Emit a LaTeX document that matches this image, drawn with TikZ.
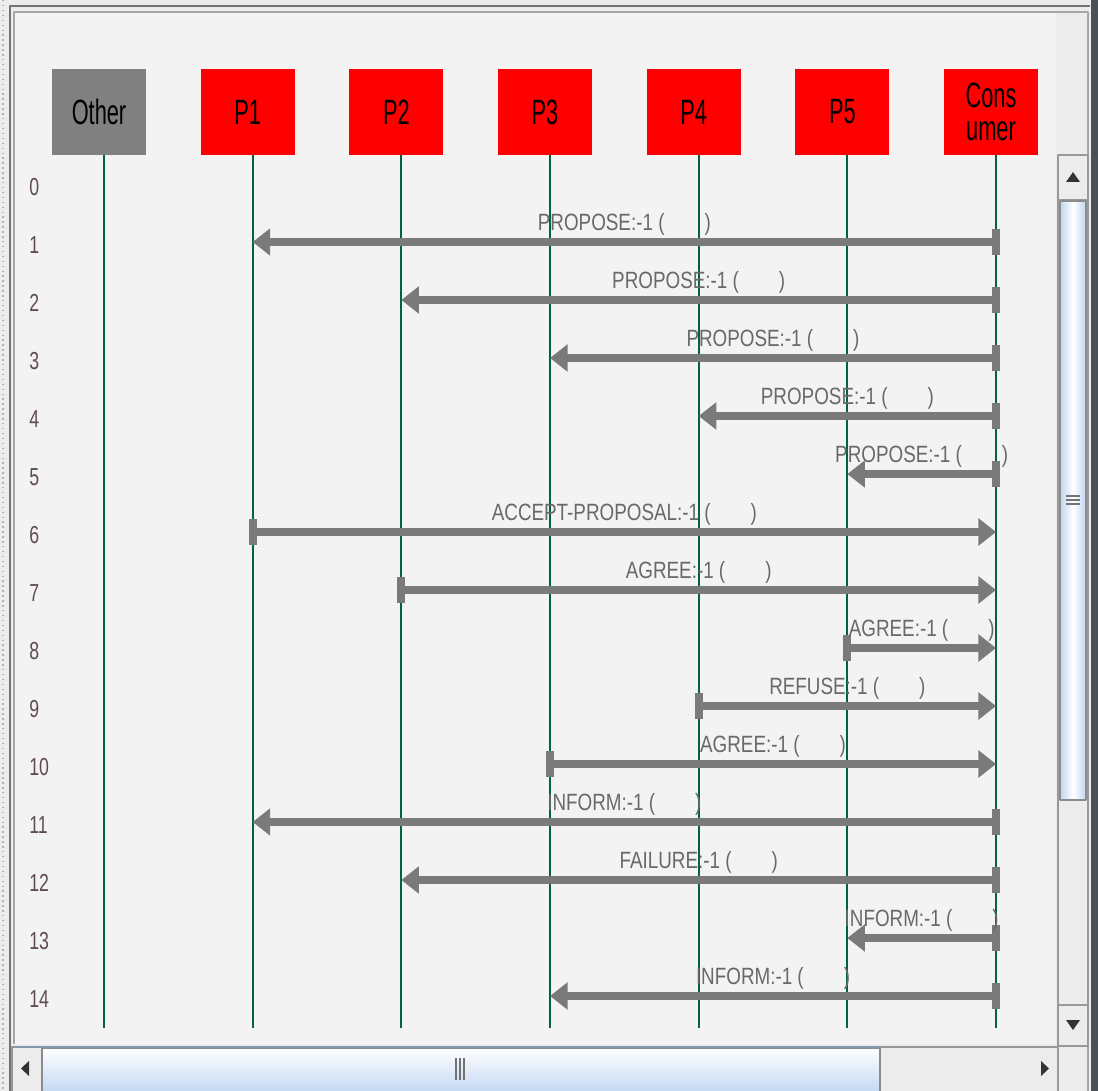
\documentclass[tikz,border=0pt]{standalone}
\usepackage{graphicx}
\usepackage{fontspec}
\setmainfont{Liberation Sans}
\usetikzlibrary{arrows.meta,positioning}
\definecolor{agentred}{RGB}{255,0,0}
\definecolor{othergray}{RGB}{128,128,128}
\definecolor{lifegreen}{RGB}{0,100,60}
\definecolor{msggray}{RGB}{122,122,122}
\definecolor{labelgray}{RGB}{105,105,105}
\definecolor{numgray}{RGB}{95,75,85}
\definecolor{panelbg}{RGB}{243,243,243}
\definecolor{winbg}{RGB}{236,236,236}
\definecolor{sbblue}{RGB}{192,214,242}
\definecolor{framedark}{RGB}{72,80,90}
\newcommand{\agentlbl}[1]{\scalebox{0.62}[1]{#1}}
\newcommand{\msgtxt}[1]{\scalebox{0.8}[1]{#1:-1 (\hspace{1.0cm})}}
\begin{document}
\begin{tikzpicture}[x=0.02cm, y=-0.02cm, line join=round, line cap=butt,
  agentbox/.style={minimum width=1.88cm, minimum height=1.72cm, inner sep=0pt,
    outer sep=0pt, fill=agentred, align=center, font=\fontsize{20}{20}\selectfont},
  life/.style={draw=lifegreen, line width=1.1pt},
  msg/.style={draw=msggray, line width=4.3pt, shorten <=-2.2pt,
    {Rectangle[length=4.5pt,width=15pt]}-{Triangle[length=10pt,width=15pt]}},
  msglabel/.style={midway, anchor=base, yshift=6.8pt, inner sep=0pt,
    text=labelgray, font=\fontsize{13.4}{14}\selectfont},
  rownum/.style={anchor=west, inner sep=0pt, text=numgray,
    font=\fontsize{14}{14}\selectfont},
  sbtri/.style={fill=black!80}]
\useasboundingbox (0,0) rectangle (1098,1091);
% window and panel
\fill[winbg] (0,0) rectangle (1098,1091);
\fill[panelbg] (14,12) rectangle (1056,1044);
\draw[gray!60, line width=0.8pt, dotted] (3,0) -- (3,1091);
\draw[black!55, line width=1.5pt] (10,1091) -- (10,6) -- (1090,6);
\draw[black!35, line width=0.6pt] (14,1044) -- (14,12) -- (1088,12) -- (1088,1091);
\fill[framedark] (1091,0) rectangle (1098,1091);
% agents
\node[agentbox, fill=othergray] (Oth) at (99,112) {\agentlbl{Other}};
\node[agentbox, right=1.094cm of Oth] (P1) {\agentlbl{P1}};
\node[agentbox, right=1.094cm of P1] (P2) {\agentlbl{P2}};
\node[agentbox, right=1.094cm of P2] (P3) {\agentlbl{P3}};
\node[agentbox, right=1.094cm of P3] (P4) {\agentlbl{P4}};
\node[agentbox, right=1.094cm of P4] (P5) {\agentlbl{P5}};
\node[agentbox, right=1.094cm of P5] (Cons) {\agentlbl{Cons}\\[-1pt]\agentlbl{umer}};
% lifelines
\coordinate (bot) at (0,1028);
\foreach \a in {Oth,P1,P2,P3,P4,P5,Cons}{
  \coordinate (\a-top) at ([xshift=0.1cm]\a.south);
  \coordinate (\a-end) at (\a-top |- bot);
  \draw[life] (\a-top) -- (\a-end);
}
% rows
\foreach \k in {0,...,14}{
  \coordinate (r\k) at (0,184+58*\k);
  \node[rownum] (n\k) at (29,187+58*\k) {\scalebox{0.72}[1]{\k}};
}
% messages
\foreach \k/\from/\to/\txt in {1/Cons/P1/PROPOSE, 2/Cons/P2/PROPOSE,
    3/Cons/P3/PROPOSE, 4/Cons/P4/PROPOSE, 5/Cons/P5/PROPOSE,
    6/P1/Cons/ACCEPT-PROPOSAL, 7/P2/Cons/AGREE, 8/P5/Cons/AGREE,
    9/P4/Cons/REFUSE, 10/P3/Cons/AGREE, 11/Cons/P1/INFORM,
    12/Cons/P2/FAILURE, 13/Cons/P5/INFORM, 14/Cons/P3/INFORM}{
  \draw[msg] (\from-end |- r\k) -- node[msglabel] (m\k) {\msgtxt{\txt}} (\to-end |- r\k);
}
% vertical scroll bar
\draw[black!40, fill=winbg, line width=0.6pt] (1058,155) rectangle (1088,1046);
\draw[black!40, line width=0.6pt] (1058,200) -- (1088,200) (1058,1005) -- (1088,1005);
\draw[black!45, left color=sbblue, right color=sbblue, middle color=white, line width=0.6pt]
  (1060,201) rectangle (1086,800);
\draw[black!55, line width=0.8pt] (1066,496) -- (1080,496) (1066,500) -- (1080,500) (1066,504) -- (1080,504);
\fill[sbtri] (1066,182) -- (1080,182) -- (1073,172) -- cycle;
\fill[sbtri] (1066,1020) -- (1080,1020) -- (1073,1030) -- cycle;
% horizontal scroll bar
\draw[black!40, fill=winbg, line width=0.6pt] (12,1047) rectangle (1058,1095);
\draw[black!45, top color=white, bottom color=sbblue, line width=0.6pt]
  (42,1048) rectangle (880,1095);
\draw[sbblue!70!black, line width=1pt] (12,1047) -- (880,1047);
\draw[black!55, line width=0.8pt] (456,1058) -- (456,1080) (460,1058) -- (460,1080) (464,1058) -- (464,1080);
\fill[sbtri] (29,1061) -- (29,1076) -- (21,1068.5) -- cycle;
\fill[sbtri] (1041,1061) -- (1041,1076) -- (1049,1068.5) -- cycle;
\end{tikzpicture}
\end{document}
